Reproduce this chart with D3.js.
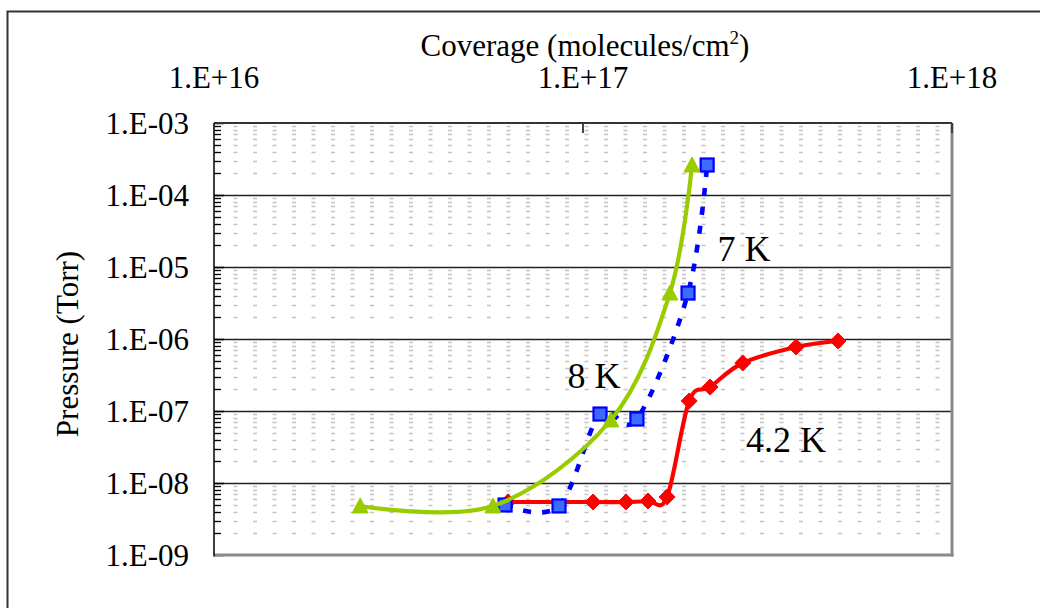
<!DOCTYPE html>
<html>
<head>
<meta charset="utf-8">
<script src="https://cdn.jsdelivr.net/npm/d3@7/dist/d3.min.js"></script>
<style>
  html, body { margin: 0; padding: 0; background: #fff; }
  svg { display: block; }
  text { font-family: "Liberation Serif", "Times New Roman", serif; fill: #000; }
</style>
</head>
<body>
<svg id="chart" width="1040" height="608"></svg>
<script>
// Coverage (molecules/cm^2) and pressure (Torr) for each temperature
const coverage42 = [6.26e16, 1.065e17, 1.308e17, 1.50e17, 1.69e17, 1.94e17, 2.21e17, 2.71e17, 3.78e17, 4.91e17];
const pressure42 = [5.45e-9, 5.45e-9, 5.45e-9, 5.62e-9, 6.4e-9, 1.38e-7, 2.15e-7, 4.64e-7, 7.74e-7, 9.38e-7];

const coverage7 = [6.15e16, 8.61e16, 1.112e17, 1.40e17, 1.926e17, 2.17e17];
const pressure7 = [4.95e-9, 4.8e-9, 9.08e-8, 7.74e-8, 4.35e-6, 2.61e-4];

const coverage8 = [2.49e16, 5.70e16, 1.19e17, 1.72e17, 1.974e17];
const pressure8 = [4.8e-9, 4.8e-9, 7.5e-8, 4.35e-6, 2.61e-4];

const xTickValues = [1e16, 1e17, 1e18];
const xTickLabels = ["1.E+16", "1.E+17", "1.E+18"];
const yTickValues = [1e-3, 1e-4, 1e-5, 1e-6, 1e-7, 1e-8, 1e-9];
const yTickLabels = ["1.E-03", "1.E-04", "1.E-05", "1.E-06", "1.E-07", "1.E-08", "1.E-09"];

const seriesLabels = ["4.2 K", "7 K", "8 K"];

const svg = d3.select("#chart");
const plot = { left: 214, right: 952, top: 123, bottom: 555 };

const x = d3.scaleLog().domain([1e16, 1e18]).range([plot.left, plot.right]);
const y = d3.scaleLog().domain([1e-9, 1e-3]).range([plot.bottom, plot.top]);

// outer chart frame
svg.append("path")
  .attr("d", "M7.5,608 V11.5 H1040")
  .attr("fill", "none").attr("stroke", "#333").attr("stroke-width", 2);

// minor horizontal gridlines (dashed)
const minorY = [];
for (let e = -9; e < -3; e++) for (let k = 2; k <= 9; k++) minorY.push(k * Math.pow(10, e));
svg.append("g").selectAll("line").data(minorY).join("line")
  .attr("x1", plot.left).attr("x2", plot.right)
  .attr("y1", d => Math.round(y(d)) + 0.5).attr("y2", d => Math.round(y(d)) + 0.5)
  .attr("stroke", "#c4c4c4").attr("stroke-width", 1.6)
  .attr("stroke-dasharray", "4,15.5");

// major horizontal gridlines
svg.append("g").selectAll("line").data(yTickValues.slice(1, -1)).join("line")
  .attr("x1", plot.left).attr("x2", plot.right)
  .attr("y1", d => Math.round(y(d)) + 0.5).attr("y2", d => Math.round(y(d)) + 0.5)
  .attr("stroke", "#222").attr("stroke-width", 1.3);

// left axis with inside ticks
const yAxis = d3.axisLeft(y).tickValues(yTickValues).tickSize(0).tickFormat("");
svg.append("g").attr("transform", `translate(${plot.left},0)`).call(yAxis).call(g => g.select(".domain").remove());
svg.append("g").selectAll("line").data(minorY).join("line")
  .attr("x1", plot.left).attr("x2", plot.left + 7)
  .attr("y1", d => Math.round(y(d)) + 0.5).attr("y2", d => Math.round(y(d)) + 0.5)
  .attr("stroke", "#000").attr("stroke-width", 1.3);
svg.append("g").selectAll("line").data(yTickValues).join("line")
  .attr("x1", plot.left).attr("x2", plot.left + 10)
  .attr("y1", d => Math.round(y(d)) + 0.5).attr("y2", d => Math.round(y(d)) + 0.5)
  .attr("stroke", "#000").attr("stroke-width", 1.5);

// plot frame: dark top/left, grey right/bottom
svg.append("line").attr("x1", plot.left).attr("x2", plot.right).attr("y1", plot.top).attr("y2", plot.top)
  .attr("stroke", "#333").attr("stroke-width", 2);
svg.append("line").attr("x1", plot.right).attr("x2", plot.right).attr("y1", plot.top).attr("y2", plot.bottom + 1.5)
  .attr("stroke", "#8a8a8a").attr("stroke-width", 3);
svg.append("line").attr("x1", plot.left).attr("x2", plot.right + 1.5).attr("y1", plot.bottom).attr("y2", plot.bottom)
  .attr("stroke", "#8a8a8a").attr("stroke-width", 3);
svg.append("line").attr("x1", plot.left).attr("x2", plot.left).attr("y1", plot.top).attr("y2", plot.bottom + 1.5)
  .attr("stroke", "#000").attr("stroke-width", 1.5);

// top axis: major ticks pointing inward
svg.append("g").selectAll("line").data(xTickValues).join("line")
  .attr("x1", d => x(d)).attr("x2", d => x(d))
  .attr("y1", plot.top).attr("y2", plot.top + 10)
  .attr("stroke", "#333").attr("stroke-width", 1.8);

// tick labels
const tickFont = 31;
svg.append("g").selectAll("text").data(xTickValues).join("text")
  .attr("x", d => x(d)).attr("y", 88)
  .attr("text-anchor", "middle")
  .style("font-size", tickFont + "px")
  .text((d, i) => xTickLabels[i]);
svg.append("g").selectAll("text").data(yTickValues).join("text")
  .attr("x", 189).attr("y", d => y(d) + 10.5)
  .attr("text-anchor", "end")
  .style("font-size", tickFont + "px")
  .text((d, i) => yTickLabels[i]);

// axis titles
const xTitle = svg.append("text")
  .attr("x", 585).attr("y", 56).attr("text-anchor", "middle")
  .style("font-size", tickFont + "px");
xTitle.append("tspan").text("Coverage (molecules/cm");
xTitle.append("tspan").attr("dy", -12).style("font-size", "19px").text("2");
xTitle.append("tspan").attr("dy", 12).text(")");

svg.append("text")
  .attr("transform", "translate(78,344) rotate(-90)")
  .attr("text-anchor", "middle")
  .style("font-size", tickFont + "px")
  .text("Pressure (Torr)");

// series
const mk = (xs, ys) => xs.map((v, i) => [v, ys[i]]);
const d42 = mk(coverage42, pressure42);
const d7 = mk(coverage7, pressure7);
const d8 = mk(coverage8, pressure8);

const line = d3.line().x(d => x(d[0])).y(d => y(d[1])).curve(d3.curveCardinal.tension(0));

const red = "#ff0000", blue = "#0000ff", blueFill = "#3d6bff", green = "#99cc00";

// 4.2 K
svg.append("path").datum(d42).attr("d", line)
  .attr("fill", "none").attr("stroke", red).attr("stroke-width", 4.2).attr("stroke-linejoin", "round");
svg.append("g").selectAll("path").data(d42).join("path")
  .attr("transform", d => `translate(${x(d[0])},${y(d[1])})`)
  .attr("d", "M0,-8 L8,0 L0,8 L-8,0 Z")
  .attr("fill", red).attr("stroke", red).attr("stroke-width", 1);

// 7 K
svg.append("path").datum(d7).attr("d", line)
  .attr("fill", "none").attr("stroke", blue).attr("stroke-width", 4.6)
  .attr("stroke-dasharray", "8,11");
svg.append("g").selectAll("rect").data(d7).join("rect")
  .attr("x", d => x(d[0]) - 6.5).attr("y", d => y(d[1]) - 6.5)
  .attr("width", 13).attr("height", 13)
  .attr("fill", blueFill).attr("stroke", blue).attr("stroke-width", 2.2);

// 8 K
svg.append("path").datum(d8).attr("d", line)
  .attr("fill", "none").attr("stroke", green).attr("stroke-width", 4.2).attr("stroke-linejoin", "round");
svg.append("g").selectAll("path").data(d8).join("path")
  .attr("transform", d => `translate(${x(d[0])},${y(d[1])})`)
  .attr("d", "M0,-8 L8,7 L-8,7 Z")
  .attr("fill", green).attr("stroke", green).attr("stroke-width", 1);

// series labels
const labelFont = 36;
svg.append("text").attr("x", 786).attr("y", 452).attr("text-anchor", "middle")
  .style("font-size", labelFont + "px").text(seriesLabels[0]);
svg.append("text").attr("x", 744).attr("y", 261).attr("text-anchor", "middle")
  .style("font-size", labelFont + "px").text(seriesLabels[1]);
svg.append("text").attr("x", 594).attr("y", 388).attr("text-anchor", "middle")
  .style("font-size", labelFont + "px").text(seriesLabels[2]);
</script>
</body>
</html>
